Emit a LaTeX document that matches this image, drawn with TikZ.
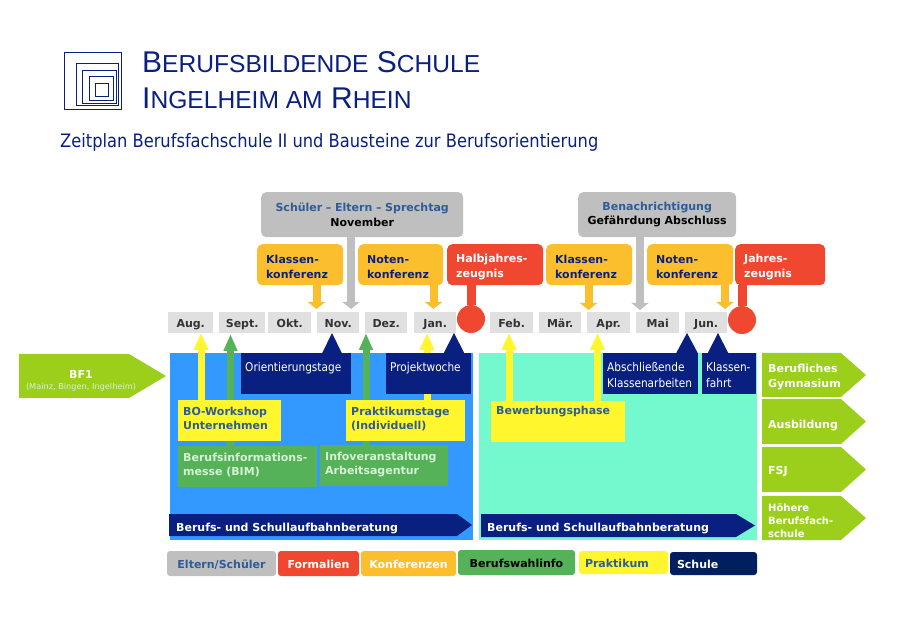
\documentclass[tikz,border=0pt]{standalone}
\usepackage{fontspec}
\setmainfont{DejaVu Sans}
\newfontfamily\titlefont{Liberation Sans}
\newfontfamily\thinfont[FakeStretch=0.88]{DejaVu Sans}
\usepackage{tikz}
\usetikzlibrary{positioning, arrows.meta, calc}
\definecolor{navy}{HTML}{0A2080}
\definecolor{legnavy}{HTML}{001F5F}
\definecolor{steel}{HTML}{2F5C96}
\definecolor{greyb}{HTML}{BFBFBF}
\definecolor{orangeb}{HTML}{FBBF2E}
\definecolor{redb}{HTML}{F04830}
\definecolor{yellowb}{HTML}{FFF62E}
\definecolor{greenb}{HTML}{55B258}
\definecolor{limeb}{HTML}{9BCF1B}
\definecolor{blueb}{HTML}{3399FF}
\definecolor{tealb}{HTML}{74F8CE}
\definecolor{mintt}{HTML}{D6F2D6}
\newcommand{\fs}[2]{\fontsize{#1}{#2}\selectfont}
\newcommand{\capsc}[2]{{\fs{30}{36}#1}{\fs{24.6}{36}#2}}
\tikzset{
  box/.style={rectangle, anchor=north west, align=left, inner ysep=0pt, inner xsep=8pt,
              minimum height=41pt, font=\bfseries\fs{11}{14.5}},
  grybox/.style={box, fill=greyb, rounded corners=5pt, align=center, inner xsep=0pt, minimum height=45pt},
  konf/.style={box, fill=orangeb, text=navy, rounded corners=5pt, inner xsep=9pt, font=\bfseries\fs{11}{15},
               execute at begin node={\rule{0pt}{12.4pt}}},
  zeug/.style={box, fill=redb, text=white, rounded corners=5pt, inner xsep=9pt, font=\bfseries\fs{11}{15},
               execute at begin node={\rule{0pt}{12.4pt}}},
  yelbox/.style={box, fill=yellowb, text=steel, inner xsep=5pt, execute at end node={\rule[-5pt]{0pt}{5pt}}},
  grnbox/.style={box, fill=greenb, text=mintt, inner xsep=5pt, execute at end node={\rule[-5pt]{0pt}{5pt}}},
  schbox/.style={box, fill=navy, text=white, inner xsep=4pt, font=\thinfont\fs{12}{15.5},
                 execute at begin node={\rule{0pt}{12pt}}},
  mon/.style={rectangle, anchor=west, fill=black!12, text=black!80, minimum height=21pt,
              inner sep=0pt, text height=10pt, text depth=1pt, font=\bfseries\fs{11}{13}},
  leg/.style={rectangle, rounded corners=3pt, minimum height=25pt, inner sep=0pt, outer sep=0pt,
              text height=10pt, text depth=1pt, font=\bfseries\fs{11}{13}},
  limetxt/.style={anchor=west, align=left, text=white, inner sep=0pt, font=\bfseries\fs{11}{15}},
  grayarr/.style={line width=8pt, greyb, -{Triangle[width=17pt,length=7pt]}},
  orarr/.style={line width=8pt, orangeb, -{Triangle[width=17pt,length=7pt]}},
  yelarr/.style={line width=7pt, yellowb, -{Triangle[width=14pt,length=17pt]}},
  grnarr/.style={line width=7pt, greenb, -{Triangle[width=13pt,length=17pt]}},
  redline/.style={line width=9pt, redb},
}

\begin{document}
\begin{tikzpicture}[x=1pt, y=-1pt]
  \useasboundingbox (0,0) rectangle (922,636);
  \draw[navy, line width=0.8pt] (64,52) rectangle (121,109);
  \foreach \xa/\ya/\xb/\yb in {76/64/118/106, 82/71/116/104, 89/77/113/101, 95/84/108/97}
    \draw[navy, line width=1pt] (\xa,\ya) rectangle (\xb,\yb);
  \node[anchor=base west, inner sep=0pt, text=navy, font=\titlefont\fs{30}{36}] (t1) at (142,73) {\capsc{B}{ERUFSBILDENDE} \capsc{S}{CHULE}};
  \node[anchor=base west, inner sep=0pt, text=navy, font=\titlefont\fs{30}{36}] (t2) at (142,109) {\capsc{I}{NGELHEIM AM} \capsc{R}{HEIN}};
  \node[anchor=base west, inner sep=0pt, text=navy, font=\thinfont\fs{18.5}{22}] (t3) at (60,148) {Zeitplan Berufsfachschule II und Bausteine zur Berufsorientierung};

  % panels
  \fill[blueb] (170,353) rectangle (473,540);
  \fill[tealb] (479,353) rectangle (757,540);

  % months
  \foreach \n/\xa/\w/\t in {m1/168/45/Aug., m2/219/46/Sept., m3/268/43/Okt., m4/317/42/Nov., m5/365/42/Dez., m6/414/42/Jan.,
                            m7/490/43/Feb., m8/539/42/Mär., m9/587/43/Apr., m10/636/43/Mai, m11/685/42/Jun.}
    \node[mon, minimum width=\w pt] (\n) at (\xa,323) {\t};

  % top row
  \node[grybox, text width=202pt] (sp) at (261,192) {\textcolor{steel}{Schüler – Eltern – Sprechtag}\\November};
  \node[grybox, text width=158pt] (be) at (578,192) {\textcolor{steel}{Benachrichtigung}\\Gefährdung Abschluss};
  \node[konf, text width=68pt] (k1) at (257,244) {Klassen-\\konferenz};
  \node[konf, text width=67pt] (n1) at (358,244) {Noten-\\konferenz};
  \node[zeug, text width=78pt] (hz) at (447,244) {Halbjahres-\\zeugnis};
  \node[konf, text width=68pt] (k2) at (546,244) {Klassen-\\konferenz};
  \node[konf, text width=68pt] (n2) at (647,244) {Noten-\\konferenz};
  \node[zeug, text width=72pt] (jz) at (735,244) {Jahres-\\zeugnis};
  \node[circle, fill=redb, minimum size=28pt, inner sep=0pt] (c1) at (471,319) {};
  \node[circle, fill=redb, minimum size=28pt, inner sep=0pt] (c2) at (742,320) {};
  \draw[redline] (hz.south -| c1) -- (c1);
  \draw[redline] (jz.south -| c2) -- (c2);
  \coordinate (a1) at (316.5,309);
  \coordinate (a2) at (351,309);
  \coordinate (a3) at (433.5,309);
  \coordinate (a4) at (588.5,310);
  \coordinate (a5) at (640,310);
  \coordinate (a6) at (725,309);
  \draw[orarr] (k1.south -| a1) -- (a1);
  \draw[orarr] (n1.south -| a3) -- (a3);
  \draw[orarr] (k2.south -| a4) -- (a4);
  \draw[orarr] (n2.south -| a6) -- (a6);
  \draw[grayarr] (sp.south -| a2) -- (a2);
  \draw[grayarr] (be.south -| a5) -- (a5);

  % green and yellow boxes
  \node[grnbox, text width=129pt] (bim) at (178,446) {Berufsinformations-\\messe (BIM)};
  \node[grnbox, text width=118pt] (inf) at (320,445) {Infoveranstaltung\\Arbeitsagentur};
  \coordinate (a7) at (230.5,334);
  \coordinate (a8) at (366,333);
  \draw[grnarr] (bim.north -| a7) -- (a7);
  \draw[grnarr] (inf.north -| a8) -- (a8);
  \node[yelbox, text width=93pt] (bo) at (178,400) {BO-Workshop\\Unternehmen};
  \node[yelbox, text width=109pt] (pr) at (346,400) {Praktikumstage\\(Individuell)};
  \node[yelbox, text width=124pt] (bw) at (491,401) {Bewerbungsphase\\[4pt]~};
  \coordinate (a9) at (201,333);
  \coordinate (a10) at (427,333);
  \coordinate (a11) at (509,333);
  \coordinate (a12) at (597.5,333);
  \draw[yelarr] (bo.north -| a9) -- (a9);
  \draw[yelarr] (pr.north -| a10) -- (a10);
  \draw[yelarr] (bw.north -| a11) -- (a11);
  \draw[yelarr] (bw.north -| a12) -- (a12);

  % school blocks
  \foreach \px/\pw in {332/10, 454/10.5, 687/11, 718/10.5}
    \fill[navy] (\px,333) -- (\px-\pw,353.5) -- (\px+\pw,353.5) -- cycle;
  \node[schbox, text width=102pt] (ot) at (241,353) {Orientierungstage\\~};
  \node[schbox, text width=77pt] (pw) at (386,353) {Projektwoche\\~};
  \node[schbox, text width=87pt] (ab) at (603,353) {Abschließende\\Klassenarbeiten};
  \node[schbox, text width=46pt] (kf) at (702,353) {Klassen-\\fahrt};

  % counselling bars
  \fill[navy] (169,514) -- (457,514) -- (472,525) -- (457,536) -- (169,536) -- cycle;
  \fill[navy] (481,514) -- (736,514) -- (755,525.5) -- (736,537) -- (481,537) -- cycle;
  \node[limetxt] (br1) at (176,528.5) {Berufs- und Schullaufbahnberatung};
  \node[limetxt] (br2) at (487,528.5) {Berufs- und Schullaufbahnberatung};

  % entry and exits
  \fill[limeb] (19,354) -- (129,354) -- (166,376) -- (129,398) -- (19,398) -- cycle;
  \node[align=center, text=white, inner sep=0pt] (bf) at (81,381) {{\bfseries\fs{11}{13}BF1}\\[-1pt]{\color{mintt}\fs{8.2}{10}(Mainz, Bingen, Ingelheim)}};
  \foreach \ya/\yb in {353/397, 399/444, 447/492, 496/540}
    \fill[limeb] (762,\ya) -- (841,\ya) -- (866,{(\ya+\yb)/2}) -- (841,\yb) -- (762,\yb) -- cycle;
  \node[limetxt] (x1) at (768,377) {Berufliches\\Gymnasium};
  \node[limetxt] (x2) at (768,426) {Ausbildung};
  \node[limetxt] (x3) at (768,472) {FSJ};
  \node[limetxt, font=\bfseries\fs{10}{13}] (x4) at (768,521) {Höhere\\Berufsfach-\\schule};

  % legend
  \node[leg, anchor=west, fill=greyb, text=steel, minimum width=109pt] (l1) at (167,563.5) {Eltern/Schüler};
  \node[leg, fill=redb, text=white, minimum width=81pt, right=2pt of l1] (l2) {Formalien};
  \node[leg, fill=orangeb, text=white, minimum width=95pt, right=2pt of l2] (l3) {Konferenzen};
  \node[leg, fill=greenb, text=black, minimum width=117pt, right=2pt of l3, yshift=1pt] (l4) {Berufswahlinfo};
  \node[leg, fill=yellowb, text=steel, inner xsep=6pt, text width=77pt, align=left, right=4pt of l4, minimum height=23pt] (l5) {Praktikum};
  \node[leg, fill=legnavy, text=white, inner xsep=7pt, text width=73pt, align=left, right=2pt of l5, yshift=-1pt, minimum height=23pt] (l6) {Schule};
\end{tikzpicture}
\end{document}
